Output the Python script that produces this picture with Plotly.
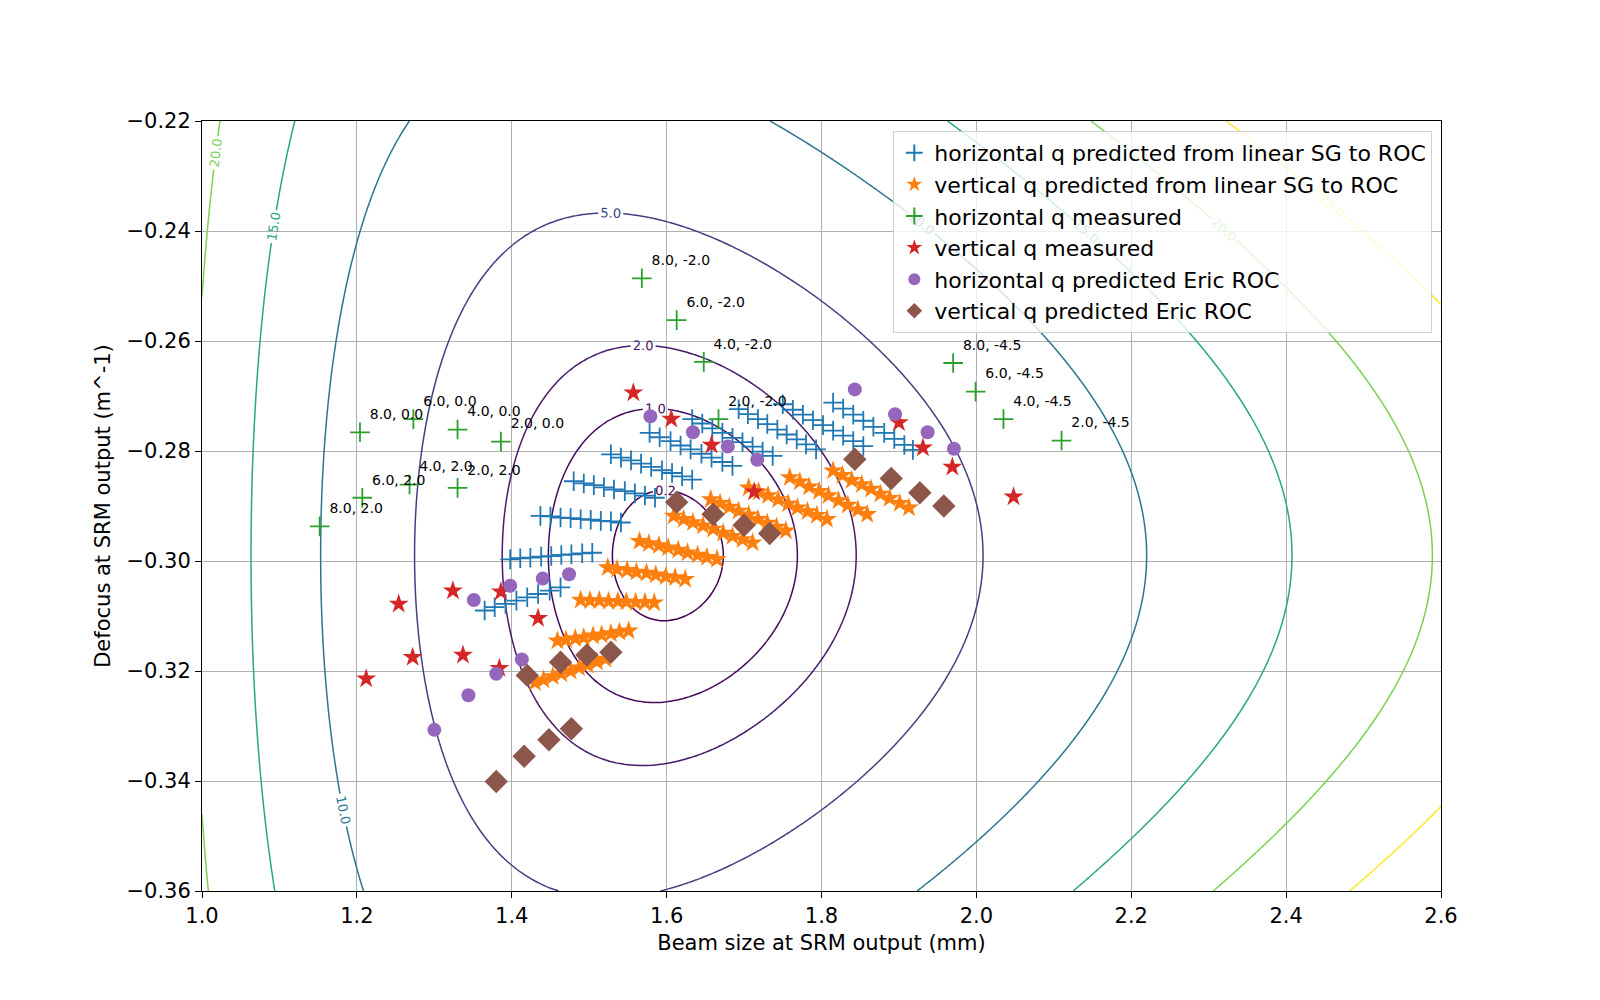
import numpy as np
import plotly.graph_objects as go
from plotly.colors import sample_colorscale

# horizontal q predicted from linear SG to ROC (beam size mm, defocus m^-1)
h_lin_x = [
    1.365, 1.378, 1.392, 1.406, 1.420, 1.434, 1.449, 1.463,
    1.398, 1.411, 1.424, 1.438, 1.451, 1.464, 1.477, 1.491, 1.504,
    1.437, 1.450, 1.463, 1.476, 1.489, 1.502, 1.515, 1.528, 1.541,
    1.480, 1.493, 1.506, 1.519, 1.532, 1.546, 1.559, 1.572, 1.585,
    1.528, 1.541, 1.554, 1.567, 1.580, 1.594, 1.607, 1.620, 1.633,
    1.578, 1.591, 1.605, 1.618, 1.631, 1.645, 1.658, 1.672, 1.685,
    1.633, 1.646, 1.659, 1.672, 1.685, 1.698, 1.711, 1.724, 1.737,
    1.693, 1.705, 1.718, 1.730, 1.743, 1.755, 1.768, 1.780, 1.793,
    1.750, 1.763, 1.776, 1.789, 1.802, 1.815, 1.828, 1.841, 1.854,
    1.815, 1.828, 1.841, 1.854, 1.867, 1.881, 1.894, 1.907, 1.918,
]
h_lin_y = [
    -0.3090, -0.3084, -0.3078, -0.3072, -0.3066, -0.3060, -0.3054, -0.3048,
    -0.2997, -0.2995, -0.2994, -0.2992, -0.2991, -0.2989, -0.2988, -0.2986, -0.2985,
    -0.2918, -0.2919, -0.2921, -0.2922, -0.2924, -0.2925, -0.2927, -0.2928, -0.2930,
    -0.2855, -0.2859, -0.2862, -0.2866, -0.2870, -0.2873, -0.2877, -0.2881, -0.2885,
    -0.2806, -0.2812, -0.2817, -0.2823, -0.2829, -0.2835, -0.2840, -0.2846, -0.2852,
    -0.2767, -0.2775, -0.2782, -0.2790, -0.2797, -0.2805, -0.2812, -0.2820, -0.2827,
    -0.2742, -0.2750, -0.2759, -0.2767, -0.2776, -0.2784, -0.2792, -0.2801, -0.2809,
    -0.2724, -0.2733, -0.2742, -0.2751, -0.2761, -0.2770, -0.2779, -0.2788, -0.2797,
    -0.2715, -0.2725, -0.2734, -0.2744, -0.2753, -0.2763, -0.2772, -0.2782, -0.2791,
    -0.2712, -0.2723, -0.2734, -0.2745, -0.2756, -0.2767, -0.2778, -0.2789, -0.2798,
]

# vertical q predicted from linear SG to ROC
v_lin_x = [
    1.430, 1.441, 1.453, 1.464, 1.476, 1.487, 1.498, 1.510, 1.521,
    1.459, 1.470, 1.482, 1.493, 1.505, 1.516, 1.528, 1.539, 1.551,
    1.489, 1.501, 1.513, 1.525, 1.537, 1.548, 1.560, 1.572, 1.584,
    1.524, 1.536, 1.549, 1.561, 1.574, 1.586, 1.599, 1.611, 1.624,
    1.565, 1.577, 1.590, 1.602, 1.615, 1.627, 1.640, 1.652, 1.665,
    1.609, 1.622, 1.634, 1.647, 1.660, 1.673, 1.685, 1.698, 1.711,
    1.657, 1.669, 1.681, 1.693, 1.706, 1.718, 1.730, 1.742, 1.754,
    1.706, 1.719, 1.731, 1.744, 1.757, 1.769, 1.782, 1.794, 1.807,
    1.759, 1.772, 1.784, 1.797, 1.809, 1.822, 1.834, 1.847, 1.859,
    1.815, 1.827, 1.839, 1.852, 1.864, 1.876, 1.888, 1.901, 1.913,
]
v_lin_y = [
    -0.3221, -0.3216, -0.3210, -0.3205, -0.3200, -0.3194, -0.3189, -0.3183, -0.3178,
    -0.3145, -0.3143, -0.3141, -0.3139, -0.3136, -0.3134, -0.3132, -0.3129, -0.3127,
    -0.3071, -0.3072, -0.3072, -0.3073, -0.3073, -0.3074, -0.3075, -0.3075, -0.3076,
    -0.3012, -0.3015, -0.3017, -0.3020, -0.3022, -0.3025, -0.3028, -0.3030, -0.3033,
    -0.2964, -0.2968, -0.2972, -0.2976, -0.2980, -0.2985, -0.2989, -0.2993, -0.2997,
    -0.2918, -0.2924, -0.2930, -0.2936, -0.2942, -0.2949, -0.2955, -0.2961, -0.2967,
    -0.2888, -0.2895, -0.2902, -0.2909, -0.2916, -0.2924, -0.2931, -0.2938, -0.2945,
    -0.2867, -0.2874, -0.2881, -0.2888, -0.2896, -0.2903, -0.2910, -0.2917, -0.2924,
    -0.2848, -0.2856, -0.2865, -0.2873, -0.2881, -0.2890, -0.2898, -0.2907, -0.2915,
    -0.2836, -0.2844, -0.2853, -0.2861, -0.2869, -0.2878, -0.2886, -0.2895, -0.2903,
]

# horizontal q measured, labelled by setting
h_meas_x = [1.568, 1.613, 1.648, 1.667, 1.970, 1.999, 2.035, 2.110,
            1.204, 1.273, 1.330, 1.386, 1.152, 1.207, 1.268, 1.330]
h_meas_y = [-0.2486, -0.2562, -0.2638, -0.2742, -0.2640, -0.2692, -0.2742, -0.2781,
            -0.2766, -0.2742, -0.2761, -0.2783, -0.2937, -0.2885, -0.2861, -0.2867]
h_meas_labels = ["8.0, -2.0", "6.0, -2.0", "4.0, -2.0", "2.0, -2.0",
                 "8.0, -4.5", "6.0, -4.5", "4.0, -4.5", "2.0, -4.5",
                 "8.0, 0.0", "6.0, 0.0", "4.0, 0.0", "2.0, 0.0",
                 "8.0, 2.0", "6.0, 2.0", "4.0, 2.0", "2.0, 2.0"]

v_meas_x = [1.557, 1.606, 1.658, 1.713, 1.900, 1.931, 1.969, 2.048,
            1.324, 1.386, 1.434, 1.254, 1.337, 1.384, 1.272, 1.212]
v_meas_y = [-0.2694, -0.2742, -0.2789, -0.2874, -0.2748, -0.2794, -0.2829, -0.2883,
            -0.3054, -0.3056, -0.3104, -0.3078, -0.3171, -0.3195, -0.3175, -0.3214]

h_eric_x = [1.579, 1.634, 1.679, 1.717, 1.843, 1.895, 1.937, 1.971,
            1.351, 1.398, 1.440, 1.474, 1.380, 1.413, 1.344, 1.300]
h_eric_y = [-0.2737, -0.2766, -0.2792, -0.2816, -0.2688, -0.2733, -0.2766, -0.2796,
            -0.3071, -0.3045, -0.3032, -0.3024, -0.3205, -0.3179, -0.3244, -0.3307]

v_eric_x = [1.613, 1.660, 1.700, 1.733, 1.843, 1.890, 1.927, 1.958,
            1.380, 1.416, 1.448, 1.477, 1.420, 1.463, 1.497, 1.528]
v_eric_y = [-0.2893, -0.2915, -0.2935, -0.2950, -0.2815, -0.2850, -0.2876, -0.2900,
            -0.3401, -0.3355, -0.3325, -0.3305, -0.3208, -0.3184, -0.3171, -0.3166]

# mode mismatch (%) contour model
target_w = 1.6          # mm
target_defocus = -0.299  # m^-1
wavelength = 1064e-9    # m
levels = [0.2, 1.0, 2.0, 5.0, 10.0, 15.0, 20.0, 25.0]

gx = np.linspace(1.0, 2.6, 321)
gy = np.linspace(-0.36, -0.22, 281)
W, D = np.meshgrid(gx, gy)
r = W / target_w
curv = np.pi * (W * 1e-3) * (target_w * 1e-3) / wavelength * (D - target_defocus)
Z = 100 * (1 - 4 / ((r + 1 / r) ** 2 + curv ** 2))

fig = go.Figure()

fracs = [(l - levels[0]) / (levels[-1] - levels[0]) for l in levels]
level_colors = sample_colorscale("Viridis", fracs)
for lev, col in zip(levels, level_colors):
    fig.add_trace(go.Contour(
        x=gx, y=gy, z=Z,
        contours=dict(start=lev, end=lev, size=1, coloring="lines", showlabels=True,
                      labelformat=".1f", labelfont=dict(size=13, color=col)),
        colorscale=[[0, col], [1, col]],
        line=dict(width=1.5),
        showscale=False, showlegend=False, hoverinfo="skip",
    ))

fig.add_trace(go.Scatter(
    x=h_lin_x, y=h_lin_y, mode="markers",
    marker=dict(symbol="cross-thin-open", size=14, color="#1f77b4", line=dict(width=1.8)),
    name="horizontal q predicted from linear SG to ROC",
))
fig.add_trace(go.Scatter(
    x=v_lin_x, y=v_lin_y, mode="markers",
    marker=dict(symbol="star", size=15, color="#ff7f0e"),
    name="vertical q predicted from linear SG to ROC",
))
fig.add_trace(go.Scatter(
    x=h_meas_x, y=h_meas_y, mode="markers+text",
    text=h_meas_labels, textposition="top right",
    textfont=dict(size=14, color="black"),
    marker=dict(symbol="cross-thin-open", size=14, color="#2ca02c", line=dict(width=1.8)),
    name="horizontal q measured",
))
fig.add_trace(go.Scatter(
    x=v_meas_x, y=v_meas_y, mode="markers",
    marker=dict(symbol="star", size=15, color="#d62728"),
    name="vertical q measured",
))
fig.add_trace(go.Scatter(
    x=h_eric_x, y=h_eric_y, mode="markers",
    marker=dict(symbol="circle", size=14, color="#9467bd"),
    name="horizontal q predicted Eric ROC",
))
fig.add_trace(go.Scatter(
    x=v_eric_x, y=v_eric_y, mode="markers",
    marker=dict(symbol="diamond", size=18, color="#8c564b"),
    name="vertical q predicted Eric ROC",
))

axis_style = dict(showgrid=True, gridcolor="#b0b0b0", gridwidth=1, zeroline=False,
                  showline=True, linecolor="black", mirror=True, ticks="outside",
                  ticklen=6, tickcolor="black", tickfont=dict(size=21, color="black"))

fig.update_layout(
    width=1600, height=1000,
    paper_bgcolor="white", plot_bgcolor="white",
    font=dict(family="DejaVu Sans", color="black"),
    margin=dict(l=194, r=167, t=113, b=117),
    xaxis=dict(range=[1.0, 2.6], dtick=0.2, tickformat=".1f",
               title=dict(text="Beam size at SRM output (mm)", font=dict(size=21), standoff=8),
               **axis_style),
    yaxis=dict(range=[-0.36, -0.22], dtick=0.02, tickformat=".2f",
               title=dict(text="Defocus at SRM output (m^-1)", font=dict(size=21), standoff=10),
               **axis_style),
    legend=dict(x=0.993, y=0.987, xanchor="right", yanchor="top",
                bgcolor="rgba(255,255,255,0.8)", bordercolor="#d0d0d0", borderwidth=1,
                font=dict(size=22), itemsizing="constant"),
)

fig.write_html("out.html")
